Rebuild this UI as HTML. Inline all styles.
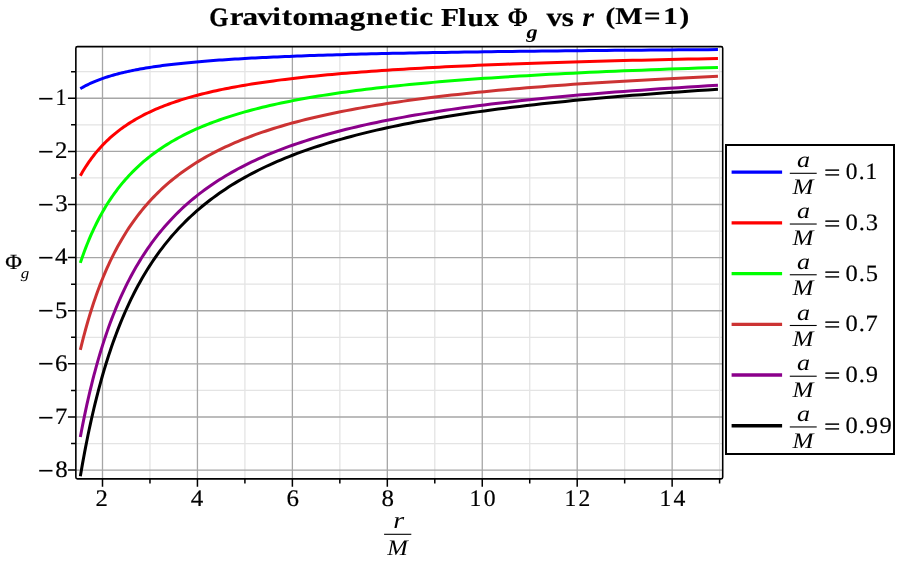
<!DOCTYPE html>
<html lang="en"><head><meta charset="utf-8"><title>Gravitomagnetic Flux</title>
<style>html,body{margin:0;padding:0;background:#fff;}body{width:913px;height:565px;overflow:hidden;font-family:"Liberation Serif",serif;}svg{display:block;will-change:transform;}text{font-family:"Liberation Serif",serif;fill:#000;text-rendering:geometricPrecision;}.b{font-weight:bold;}.i{font-style:italic;}</style></head><body>
<svg width="913" height="565" viewBox="0 0 913 565">
<rect width="913" height="565" fill="#fff"/>
<path d="M149.97 46.6 V478.9 M244.91 46.6 V478.9 M339.85 46.6 V478.9 M434.79 46.6 V478.9 M529.73 46.6 V478.9 M624.67 46.6 V478.9 M719.61 46.6 V478.9 M75.85 71.70 H722.7 M75.85 124.82 H722.7 M75.85 177.94 H722.7 M75.85 231.06 H722.7 M75.85 284.18 H722.7 M75.85 337.30 H722.7 M75.85 390.42 H722.7 M75.85 443.54 H722.7" stroke="#e4e4e4" stroke-width="1.3" fill="none"/>
<path d="M102.50 46.6 V478.9 M197.44 46.6 V478.9 M292.38 46.6 V478.9 M387.32 46.6 V478.9 M482.26 46.6 V478.9 M577.20 46.6 V478.9 M672.14 46.6 V478.9 M75.85 98.26 H722.7 M75.85 151.38 H722.7 M75.85 204.50 H722.7 M75.85 257.62 H722.7 M75.85 310.74 H722.7 M75.85 363.86 H722.7 M75.85 416.98 H722.7 M75.85 470.10 H722.7" stroke="#a6a6a6" stroke-width="1.3" fill="none"/>
<polyline points="80.33,88.68 81.38,88.07 82.43,87.46 83.51,86.86 84.60,86.27 85.70,85.69 86.82,85.12 87.96,84.55 89.11,84.00 90.28,83.45 91.47,82.90 92.67,82.37 93.89,81.84 95.13,81.32 96.39,80.81 97.66,80.31 98.95,79.81 100.26,79.32 101.59,78.84 102.94,78.36 104.31,77.89 105.70,77.43 107.11,76.97 108.53,76.52 109.98,76.08 111.45,75.64 112.94,75.21 114.45,74.78 115.99,74.37 117.54,73.95 119.12,73.54 120.72,73.14 122.34,72.75 123.99,72.36 125.66,71.97 127.35,71.59 129.07,71.22 130.81,70.85 132.58,70.49 134.37,70.13 136.19,69.77 138.04,69.43 139.91,69.08 141.81,68.74 143.73,68.41 145.68,68.08 147.66,67.76 149.67,67.44 151.71,67.12 153.78,66.81 155.88,66.50 158.00,66.20 160.16,65.90 162.35,65.61 164.57,65.32 166.82,65.04 169.11,64.76 171.42,64.48 173.77,64.20 176.16,63.93 178.58,63.67 181.03,63.41 183.52,63.15 186.04,62.89 188.60,62.64 191.20,62.40 193.83,62.15 196.50,61.91 199.21,61.67 201.96,61.44 204.75,61.21 207.58,60.98 210.45,60.76 213.36,60.54 216.31,60.32 219.30,60.11 222.34,59.89 225.42,59.68 228.54,59.48 231.71,59.28 234.93,59.08 238.19,58.88 241.50,58.69 244.85,58.49 248.25,58.30 251.71,58.12 255.21,57.94 258.76,57.75 262.36,57.58 266.02,57.40 269.72,57.23 273.49,57.06 277.30,56.89 281.17,56.72 285.09,56.56 289.07,56.40 293.11,56.24 297.21,56.08 301.36,55.93 305.57,55.77 309.85,55.62 314.18,55.47 318.58,55.33 323.04,55.18 327.57,55.04 332.16,54.90 336.81,54.76 341.53,54.63 346.32,54.49 351.18,54.36 356.11,54.23 361.11,54.10 366.18,53.98 371.32,53.85 376.54,53.73 381.83,53.61 387.20,53.49 392.65,53.37 398.17,53.25 403.77,53.14 409.45,53.02 415.22,52.91 421.07,52.80 427.00,52.69 433.01,52.59 439.11,52.48 445.30,52.38 451.58,52.28 457.95,52.18 464.41,52.08 470.96,51.98 477.61,51.88 484.35,51.79 491.19,51.69 498.13,51.60 505.16,51.51 512.30,51.42 519.54,51.33 526.88,51.24 534.33,51.16 541.88,51.07 549.55,50.99 557.32,50.90 565.21,50.82 573.20,50.74 581.32,50.66 589.54,50.58 597.89,50.51 606.36,50.43 614.95,50.36 623.66,50.28 632.49,50.21 641.46,50.14 650.55,50.07 659.77,50.00 669.13,49.93 678.61,49.86 688.24,49.80 698.00,49.73 707.90,49.66 717.95,49.60" fill="none" stroke="#0000ff" stroke-width="3" stroke-linejoin="round"/>
<polyline points="80.33,175.77 81.38,173.92 82.43,172.10 83.51,170.31 84.60,168.54 85.70,166.79 86.82,165.07 87.96,163.38 89.11,161.71 90.28,160.06 91.47,158.43 92.67,156.83 93.89,155.25 95.13,153.69 96.39,152.16 97.66,150.65 98.95,149.15 100.26,147.68 101.59,146.23 102.94,144.80 104.31,143.40 105.70,142.01 107.11,140.64 108.53,139.29 109.98,137.95 111.45,136.64 112.94,135.35 114.45,134.07 115.99,132.82 117.54,131.58 119.12,130.35 120.72,129.15 122.34,127.96 123.99,126.79 125.66,125.64 127.35,124.50 129.07,123.38 130.81,122.27 132.58,121.18 134.37,120.10 136.19,119.04 138.04,118.00 139.91,116.97 141.81,115.95 143.73,114.95 145.68,113.96 147.66,112.99 149.67,112.03 151.71,111.09 153.78,110.15 155.88,109.23 158.00,108.33 160.16,107.43 162.35,106.55 164.57,105.69 166.82,104.83 169.11,103.99 171.42,103.15 173.77,102.33 176.16,101.52 178.58,100.73 181.03,99.94 183.52,99.17 186.04,98.40 188.60,97.65 191.20,96.91 193.83,96.17 196.50,95.45 199.21,94.74 201.96,94.04 204.75,93.35 207.58,92.67 210.45,92.00 213.36,91.33 216.31,90.68 219.30,90.04 222.34,89.40 225.42,88.77 228.54,88.16 231.71,87.55 234.93,86.95 238.19,86.36 241.50,85.78 244.85,85.20 248.25,84.63 251.71,84.08 255.21,83.53 258.76,82.98 262.36,82.45 266.02,81.92 269.72,81.40 273.49,80.89 277.30,80.38 281.17,79.88 285.09,79.39 289.07,78.91 293.11,78.43 297.21,77.96 301.36,77.50 305.57,77.04 309.85,76.59 314.18,76.14 318.58,75.70 323.04,75.27 327.57,74.85 332.16,74.43 336.81,74.01 341.53,73.60 346.32,73.20 351.18,72.80 356.11,72.41 361.11,72.03 366.18,71.65 371.32,71.27 376.54,70.90 381.83,70.54 387.20,70.18 392.65,69.83 398.17,69.48 403.77,69.13 409.45,68.79 415.22,68.46 421.07,68.13 427.00,67.80 433.01,67.48 439.11,67.17 445.30,66.86 451.58,66.55 457.95,66.25 464.41,65.95 470.96,65.65 477.61,65.36 484.35,65.08 491.19,64.80 498.13,64.52 505.16,64.24 512.30,63.97 519.54,63.71 526.88,63.45 534.33,63.19 541.88,62.93 549.55,62.68 557.32,62.43 565.21,62.19 573.20,61.95 581.32,61.71 589.54,61.47 597.89,61.24 606.36,61.02 614.95,60.79 623.66,60.57 632.49,60.35 641.46,60.14 650.55,59.92 659.77,59.72 669.13,59.51 678.61,59.31 688.24,59.11 698.00,58.91 707.90,58.71 717.95,58.52" fill="none" stroke="#ff0000" stroke-width="3" stroke-linejoin="round"/>
<polyline points="80.33,262.86 81.38,259.78 82.43,256.75 83.51,253.75 84.60,250.80 85.70,247.90 86.82,245.03 87.96,242.20 89.11,239.42 90.28,236.67 91.47,233.96 92.67,231.29 93.89,228.66 95.13,226.06 96.39,223.51 97.66,220.98 98.95,218.50 100.26,216.05 101.59,213.63 102.94,211.25 104.31,208.90 105.70,206.58 107.11,204.30 108.53,202.05 109.98,199.83 111.45,197.64 112.94,195.49 114.45,193.36 115.99,191.27 117.54,189.20 119.12,187.16 120.72,185.15 122.34,183.17 123.99,181.22 125.66,179.30 127.35,177.40 129.07,175.53 130.81,173.69 132.58,171.87 134.37,170.08 136.19,168.31 138.04,166.57 139.91,164.85 141.81,163.16 143.73,161.49 145.68,159.85 147.66,158.22 149.67,156.63 151.71,155.05 153.78,153.50 155.88,151.96 158.00,150.45 160.16,148.96 162.35,147.50 164.57,146.05 166.82,144.62 169.11,143.22 171.42,141.83 173.77,140.46 176.16,139.11 178.58,137.78 181.03,136.47 183.52,135.18 186.04,133.91 188.60,132.65 191.20,131.42 193.83,130.20 196.50,128.99 199.21,127.81 201.96,126.64 204.75,125.49 207.58,124.35 210.45,123.23 213.36,122.13 216.31,121.04 219.30,119.97 222.34,118.91 225.42,117.86 228.54,116.84 231.71,115.82 234.93,114.82 238.19,113.84 241.50,112.87 244.85,111.91 248.25,110.96 251.71,110.03 255.21,109.12 258.76,108.21 262.36,107.32 266.02,106.44 269.72,105.57 273.49,104.72 277.30,103.88 281.17,103.05 285.09,102.23 289.07,101.42 293.11,100.62 297.21,99.84 301.36,99.07 305.57,98.30 309.85,97.55 314.18,96.81 318.58,96.08 323.04,95.36 327.57,94.65 332.16,93.95 336.81,93.26 341.53,92.58 346.32,91.91 351.18,91.25 356.11,90.60 361.11,89.95 366.18,89.32 371.32,88.69 376.54,88.08 381.83,87.47 387.20,86.87 392.65,86.28 398.17,85.70 403.77,85.13 409.45,84.56 415.22,84.01 421.07,83.46 427.00,82.91 433.01,82.38 439.11,81.85 445.30,81.33 451.58,80.82 457.95,80.32 464.41,79.82 470.96,79.33 477.61,78.85 484.35,78.37 491.19,77.90 498.13,77.44 505.16,76.98 512.30,76.53 519.54,76.09 526.88,75.65 534.33,75.22 541.88,74.79 549.55,74.37 557.32,73.96 565.21,73.55 573.20,73.15 581.32,72.75 589.54,72.36 597.89,71.98 606.36,71.60 614.95,71.23 623.66,70.86 632.49,70.49 641.46,70.13 650.55,69.78 659.77,69.43 669.13,69.09 678.61,68.75 688.24,68.42 698.00,68.09 707.90,67.76 717.95,67.44" fill="none" stroke="#00ff00" stroke-width="3" stroke-linejoin="round"/>
<polyline points="80.33,349.95 81.38,345.64 82.43,341.39 83.51,337.20 84.60,333.07 85.70,329.00 86.82,324.98 87.96,321.03 89.11,317.13 90.28,313.28 91.47,309.49 92.67,305.75 93.89,302.07 95.13,298.43 96.39,294.85 97.66,291.32 98.95,287.84 100.26,284.41 101.59,281.03 102.94,277.69 104.31,274.40 105.70,271.16 107.11,267.96 108.53,264.81 109.98,261.71 111.45,258.65 112.94,255.63 114.45,252.65 115.99,249.72 117.54,246.82 119.12,243.97 120.72,241.16 122.34,238.39 123.99,235.66 125.66,232.96 127.35,230.31 129.07,227.69 130.81,225.11 132.58,222.56 134.37,220.05 136.19,217.58 138.04,215.14 139.91,212.74 141.81,210.37 143.73,208.03 145.68,205.73 147.66,203.46 149.67,201.22 151.71,199.01 153.78,196.84 155.88,194.69 158.00,192.58 160.16,190.49 162.35,188.44 164.57,186.41 166.82,184.41 169.11,182.45 171.42,180.50 173.77,178.59 176.16,176.70 178.58,174.84 181.03,173.01 183.52,171.20 186.04,169.42 188.60,167.66 191.20,165.93 193.83,164.22 196.50,162.54 199.21,160.88 201.96,159.24 204.75,157.63 207.58,156.04 210.45,154.47 213.36,152.92 216.31,151.40 219.30,149.90 222.34,148.41 225.42,146.95 228.54,145.52 231.71,144.10 234.93,142.70 238.19,141.32 241.50,139.96 244.85,138.62 248.25,137.29 251.71,135.99 255.21,134.71 258.76,133.44 262.36,132.19 266.02,130.96 269.72,129.75 273.49,128.55 277.30,127.37 281.17,126.21 285.09,125.06 289.07,123.93 293.11,122.82 297.21,121.72 301.36,120.64 305.57,119.57 309.85,118.52 314.18,117.48 318.58,116.46 323.04,115.45 327.57,114.45 332.16,113.47 336.81,112.51 341.53,111.56 346.32,110.62 351.18,109.69 356.11,108.78 361.11,107.88 366.18,106.99 371.32,106.12 376.54,105.25 381.83,104.40 387.20,103.57 392.65,102.74 398.17,101.93 403.77,101.12 409.45,100.33 415.22,99.55 421.07,98.78 427.00,98.02 433.01,97.28 439.11,96.54 445.30,95.81 451.58,95.10 457.95,94.39 464.41,93.69 470.96,93.01 477.61,92.33 484.35,91.66 491.19,91.00 498.13,90.36 505.16,89.72 512.30,89.09 519.54,88.46 526.88,87.85 534.33,87.25 541.88,86.65 549.55,86.07 557.32,85.49 565.21,84.92 573.20,84.35 581.32,83.80 589.54,83.25 597.89,82.71 606.36,82.18 614.95,81.66 623.66,81.14 632.49,80.63 641.46,80.13 650.55,79.64 659.77,79.15 669.13,78.67 678.61,78.19 688.24,77.73 698.00,77.27 707.90,76.81 717.95,76.36" fill="none" stroke="#cc3333" stroke-width="3" stroke-linejoin="round"/>
<polyline points="80.33,437.03 81.38,431.49 82.43,426.03 83.51,420.64 84.60,415.33 85.70,410.10 86.82,404.94 87.96,399.85 89.11,394.84 90.28,389.89 91.47,385.02 92.67,380.21 93.89,375.47 95.13,370.80 96.39,366.20 97.66,361.66 98.95,357.18 100.26,352.77 101.59,348.42 102.94,344.13 104.31,339.91 105.70,335.74 107.11,331.63 108.53,327.58 109.98,323.58 111.45,319.65 112.94,315.77 114.45,311.94 115.99,308.17 117.54,304.45 119.12,300.78 120.72,297.17 122.34,293.60 123.99,290.09 125.66,286.63 127.35,283.21 129.07,279.85 130.81,276.53 132.58,273.25 134.37,270.03 136.19,266.85 138.04,263.71 139.91,260.62 141.81,257.58 143.73,254.57 145.68,251.61 147.66,248.69 149.67,245.81 151.71,242.98 153.78,240.18 155.88,237.42 158.00,234.70 160.16,232.02 162.35,229.38 164.57,226.78 166.82,224.21 169.11,221.68 171.42,219.18 173.77,216.72 176.16,214.29 178.58,211.90 181.03,209.54 183.52,207.22 186.04,204.93 188.60,202.67 191.20,200.44 193.83,198.24 196.50,196.08 199.21,193.94 201.96,191.84 204.75,189.77 207.58,187.72 210.45,185.71 213.36,183.72 216.31,181.76 219.30,179.83 222.34,177.92 225.42,176.04 228.54,174.19 231.71,172.37 234.93,170.57 238.19,168.80 241.50,167.05 244.85,165.32 248.25,163.62 251.71,161.95 255.21,160.30 258.76,158.67 262.36,157.06 266.02,155.48 269.72,153.92 273.49,152.38 277.30,150.87 281.17,149.37 285.09,147.90 289.07,146.45 293.11,145.01 297.21,143.60 301.36,142.21 305.57,140.84 309.85,139.48 314.18,138.15 318.58,136.83 323.04,135.54 327.57,134.26 332.16,133.00 336.81,131.76 341.53,130.53 346.32,129.32 351.18,128.13 356.11,126.96 361.11,125.80 366.18,124.66 371.32,123.54 376.54,122.43 381.83,121.34 387.20,120.26 392.65,119.20 398.17,118.15 403.77,117.12 409.45,116.10 415.22,115.10 421.07,114.11 427.00,113.13 433.01,112.17 439.11,111.22 445.30,110.29 451.58,109.37 457.95,108.46 464.41,107.56 470.96,106.68 477.61,105.81 484.35,104.95 491.19,104.11 498.13,103.27 505.16,102.45 512.30,101.64 519.54,100.84 526.88,100.06 534.33,99.28 541.88,98.51 549.55,97.76 557.32,97.01 565.21,96.28 573.20,95.56 581.32,94.85 589.54,94.14 597.89,93.45 606.36,92.77 614.95,92.09 623.66,91.43 632.49,90.77 641.46,90.13 650.55,89.49 659.77,88.87 669.13,88.25 678.61,87.64 688.24,87.04 698.00,86.45 707.90,85.86 717.95,85.29" fill="none" stroke="#8b008b" stroke-width="3" stroke-linejoin="round"/>
<polyline points="80.33,476.22 81.38,470.13 82.43,464.12 83.51,458.19 84.60,452.35 85.70,446.60 86.82,440.92 87.96,435.32 89.11,429.81 90.28,424.37 91.47,419.01 92.67,413.72 93.89,408.51 95.13,403.37 96.39,398.30 97.66,393.31 98.95,388.39 100.26,383.53 101.59,378.75 102.94,374.03 104.31,369.38 105.70,364.80 107.11,360.28 108.53,355.82 109.98,351.43 111.45,347.10 112.94,342.83 114.45,338.62 115.99,334.47 117.54,330.38 119.12,326.35 120.72,322.37 122.34,318.45 123.99,314.58 125.66,310.77 127.35,307.02 129.07,303.32 130.81,299.67 132.58,296.07 134.37,292.52 136.19,289.02 138.04,285.57 139.91,282.17 141.81,278.82 143.73,275.52 145.68,272.26 147.66,269.05 149.67,265.88 151.71,262.76 153.78,259.68 155.88,256.65 158.00,253.66 160.16,250.71 162.35,247.80 164.57,244.94 166.82,242.11 169.11,239.33 171.42,236.58 173.77,233.88 176.16,231.21 178.58,228.58 181.03,225.98 183.52,223.43 186.04,220.90 188.60,218.42 191.20,215.97 193.83,213.55 196.50,211.17 199.21,208.82 201.96,206.51 204.75,204.23 207.58,201.98 210.45,199.76 213.36,197.58 216.31,195.42 219.30,193.30 222.34,191.20 225.42,189.14 228.54,187.10 231.71,185.09 234.93,183.11 238.19,181.16 241.50,179.24 244.85,177.34 248.25,175.47 251.71,173.63 255.21,171.81 258.76,170.02 262.36,168.26 266.02,166.52 269.72,164.80 273.49,163.11 277.30,161.44 281.17,159.80 285.09,158.17 289.07,156.58 293.11,155.00 297.21,153.45 301.36,151.92 305.57,150.41 309.85,148.92 314.18,147.45 318.58,146.00 323.04,144.58 327.57,143.17 332.16,141.78 336.81,140.42 341.53,139.07 346.32,137.74 351.18,136.43 356.11,135.14 361.11,133.87 366.18,132.62 371.32,131.38 376.54,130.16 381.83,128.96 387.20,127.77 392.65,126.60 398.17,125.45 403.77,124.32 409.45,123.20 415.22,122.09 421.07,121.00 427.00,119.93 433.01,118.87 439.11,117.83 445.30,116.80 451.58,115.79 457.95,114.79 464.41,113.81 470.96,112.84 477.61,111.88 484.35,110.94 491.19,110.00 498.13,109.09 505.16,108.18 512.30,107.29 519.54,106.41 526.88,105.55 534.33,104.69 541.88,103.85 549.55,103.02 557.32,102.20 565.21,101.40 573.20,100.60 581.32,99.82 589.54,99.04 597.89,98.28 606.36,97.53 614.95,96.79 623.66,96.06 632.49,95.34 641.46,94.63 650.55,93.93 659.77,93.24 669.13,92.56 678.61,91.89 688.24,91.23 698.00,90.58 707.90,89.93 717.95,89.30" fill="none" stroke="#000000" stroke-width="3" stroke-linejoin="round"/>
<rect x="75.85" y="46.6" width="646.85" height="432.30" rx="1.6" fill="none" stroke="#000" stroke-width="1.6"/>
<path d="M102.50 478.9 v7.8 M197.44 478.9 v7.8 M292.38 478.9 v7.8 M387.32 478.9 v7.8 M482.26 478.9 v7.8 M577.20 478.9 v7.8 M672.14 478.9 v7.8 M149.97 478.9 v4.7 M244.91 478.9 v4.7 M339.85 478.9 v4.7 M434.79 478.9 v4.7 M529.73 478.9 v4.7 M624.67 478.9 v4.7 M719.61 478.9 v4.7 M75.85 98.26 h-7.9 M75.85 151.38 h-7.9 M75.85 204.50 h-7.9 M75.85 257.62 h-7.9 M75.85 310.74 h-7.9 M75.85 363.86 h-7.9 M75.85 416.98 h-7.9 M75.85 470.10 h-7.9 M75.85 71.70 h-4.8 M75.85 124.82 h-4.8 M75.85 177.94 h-4.8 M75.85 231.06 h-4.8 M75.85 284.18 h-4.8 M75.85 337.30 h-4.8 M75.85 390.42 h-4.8 M75.85 443.54 h-4.8" stroke="#000" stroke-width="1.5" fill="none"/>
<text font-size="100" transform="matrix(0.28602 0 0 0.34000 37.72 109.78)">−</text>
<text font-size="100" stroke="#000" stroke-width="0.79" x="251.2" y="0" transform="matrix(0.22057 0 0 0.23667 0 105.12)">1</text>
<text font-size="100" transform="matrix(0.28602 0 0 0.34000 37.72 162.90)">−</text>
<text font-size="100" stroke="#000" stroke-width="0.74" x="222.1" y="0" transform="matrix(0.24800 0 0 0.23667 0 158.24)">2</text>
<text font-size="100" transform="matrix(0.28602 0 0 0.34000 37.72 216.02)">−</text>
<text font-size="100" stroke="#000" stroke-width="0.74" x="221.2" y="0" transform="matrix(0.24927 0 0 0.23761 0 211.42)">3</text>
<text font-size="100" transform="matrix(0.28602 0 0 0.34000 37.72 269.14)">−</text>
<text font-size="100" stroke="#000" stroke-width="0.74" x="220.1" y="0" transform="matrix(0.24989 0 0 0.23667 0 264.48)">4</text>
<text font-size="100" transform="matrix(0.28602 0 0 0.34000 37.72 322.26)">−</text>
<text font-size="100" stroke="#000" stroke-width="0.75" x="222.2" y="0" transform="matrix(0.24800 0 0 0.23489 0 317.67)">5</text>
<text font-size="100" transform="matrix(0.28602 0 0 0.34000 37.72 375.38)">−</text>
<text font-size="100" stroke="#000" stroke-width="0.74" x="220.4" y="0" transform="matrix(0.24988 0 0 0.23761 0 370.78)">6</text>
<text font-size="100" transform="matrix(0.28602 0 0 0.34000 37.72 428.50)">−</text>
<text font-size="100" stroke="#000" stroke-width="0.75" x="222.2" y="0" transform="matrix(0.24741 0 0 0.23389 0 423.84)">7</text>
<text font-size="100" transform="matrix(0.28602 0 0 0.34000 37.72 481.62)">−</text>
<text font-size="100" stroke="#000" stroke-width="0.74" x="220.3" y="0" transform="matrix(0.25048 0 0 0.23585 0 477.02)">8</text>
<text font-size="100" stroke="#000" stroke-width="0.74" x="384.7" y="0" transform="matrix(0.24800 0 0 0.23667 0 505.81)">2</text>
<text font-size="100" stroke="#000" stroke-width="0.74" x="763.7" y="0" transform="matrix(0.24989 0 0 0.23667 0 505.81)">4</text>
<text font-size="100" stroke="#000" stroke-width="0.74" x="1146.4" y="0" transform="matrix(0.24988 0 0 0.23761 0 505.87)">6</text>
<text font-size="100" stroke="#000" stroke-width="0.74" x="1523.2" y="0" transform="matrix(0.25048 0 0 0.23585 0 505.87)">8</text>
<text font-size="100" stroke="#000" stroke-width="0.76" x="1982.3 2042.0" y="0" transform="matrix(0.23688 0 0 0.23585 0 505.87)">10</text>
<text font-size="100" stroke="#000" stroke-width="0.76" x="2400.4 2459.6" y="0" transform="matrix(0.23520 0 0 0.23667 0 505.81)">12</text>
<text font-size="100" stroke="#000" stroke-width="0.76" x="2779.4 2838.0" y="0" transform="matrix(0.23730 0 0 0.23667 0 505.81)">14</text>
<text font-size="100" stroke="#000" stroke-width="1.12" transform="matrix(0.22761 0 0 0.21756 5.24 268.98)">Φ</text>
<text class="i" font-size="100" transform="matrix(0.17021 0 0 0.14745 20.70 277.63)">g</text>
<text class="i" font-size="100" transform="matrix(0.28000 0 0 0.23404 393.28 527.90)">r</text>
<text class="i" font-size="100" transform="matrix(0.24719 0 0 0.22290 387.15 555.20)">M</text>
<path d="M384.1 534.3 H411.3" stroke="#000" stroke-width="1.1" fill="none"/>
<text class="b" font-size="100" stroke="#000" stroke-width="0.85" transform="matrix(0.24829 0 0 0.26687 209.37 25.52)">G</text>
<text class="b" font-size="100" stroke="#000" stroke-width="0.78" x="738.3 779.3 827.0 874.8 904.8 939.7 989.5 1071.9 1123.8 1176.0 1233.5 1282.3 1317.2 1346.4" y="0" transform="matrix(0.31133 0 0 0.25552 0 25.17)">ravitomagnetic</text>
<text class="b" font-size="100" stroke="#000" stroke-width="0.80" x="1496.0 1554.4 1585.5 1642.3" y="0" transform="matrix(0.29482 0 0 0.25929 0 25.53)">Flux</text>
<text class="b" font-size="100" transform="matrix(0.24800 0 0 0.26565 507.41 25.60)">Φ</text>
<text class="b i" font-size="100" transform="matrix(0.22222 0 0 0.18540 526.54 38.31)">g</text>
<text class="b" font-size="100" stroke="#000" stroke-width="0.76" x="1757.7 1806.9" y="0" transform="matrix(0.31090 0 0 0.26833 0 25.52)">vs</text>
<text class="b i" font-size="100" transform="matrix(0.30133 0 0 0.27021 582.30 25.60)">r</text>
<text class="b" font-size="100" stroke="#000" stroke-width="0.83" x="2079.9 2113.7 2212.4 2278.2 2334.2" y="0" transform="matrix(0.29111 0 0 0.23934 0 24.14)">(M=1)</text>
<rect x="726" y="145" width="168" height="309" fill="#fff" stroke="#000" stroke-width="2"/>
<path d="M731.6 172.10 H782.1" stroke="#0000ff" stroke-width="3.3" fill="none"/>
<path d="M789.8 173.30 H816.7" stroke="#000" stroke-width="1.1" fill="none"/>
<text class="i" font-size="100" transform="matrix(0.26047 0 0 0.22292 797.02 167.48)">a</text>
<text class="i" font-size="100" transform="matrix(0.25169 0 0 0.22290 792.45 194.00)">M</text>
<text font-size="100" stroke="#000" stroke-width="1.57" transform="matrix(0.28387 0 0 0.22800 824.28 180.17)">=</text>
<text font-size="100" stroke="#000" stroke-width="0.77" x="3608.2 3664.3 3692.7" y="0" transform="matrix(0.23438 0 0 0.23412 0 179.21)">0.1</text>
<path d="M731.6 222.83 H782.1" stroke="#ff0000" stroke-width="3.3" fill="none"/>
<path d="M789.8 224.03 H816.7" stroke="#000" stroke-width="1.1" fill="none"/>
<text class="i" font-size="100" transform="matrix(0.26047 0 0 0.22292 797.02 218.21)">a</text>
<text class="i" font-size="100" transform="matrix(0.25169 0 0 0.22290 792.45 244.73)">M</text>
<text font-size="100" stroke="#000" stroke-width="1.57" transform="matrix(0.28387 0 0 0.22800 824.28 230.90)">=</text>
<text font-size="100" stroke="#000" stroke-width="0.75" x="3438.1 3492.1 3520.5" y="0" transform="matrix(0.24589 0 0 0.23412 0 229.94)">0.3</text>
<path d="M731.6 273.56 H782.1" stroke="#00ff00" stroke-width="3.3" fill="none"/>
<path d="M789.8 274.76 H816.7" stroke="#000" stroke-width="1.1" fill="none"/>
<text class="i" font-size="100" transform="matrix(0.26047 0 0 0.22292 797.02 268.94)">a</text>
<text class="i" font-size="100" transform="matrix(0.25169 0 0 0.22290 792.45 295.46)">M</text>
<text font-size="100" stroke="#000" stroke-width="1.57" transform="matrix(0.28387 0 0 0.22800 824.28 281.63)">=</text>
<text font-size="100" stroke="#000" stroke-width="0.75" x="3446.2 3500.4 3528.6" y="0" transform="matrix(0.24532 0 0 0.23412 0 280.67)">0.5</text>
<path d="M731.6 324.29 H782.1" stroke="#cc3333" stroke-width="3.3" fill="none"/>
<path d="M789.8 325.49 H816.7" stroke="#000" stroke-width="1.1" fill="none"/>
<text class="i" font-size="100" transform="matrix(0.26047 0 0 0.22292 797.02 319.67)">a</text>
<text class="i" font-size="100" transform="matrix(0.25169 0 0 0.22290 792.45 346.19)">M</text>
<text font-size="100" stroke="#000" stroke-width="1.57" transform="matrix(0.28387 0 0 0.22800 824.28 332.36)">=</text>
<text font-size="100" stroke="#000" stroke-width="0.75" x="3449.6 3503.8 3531.5" y="0" transform="matrix(0.24508 0 0 0.23412 0 331.40)">0.7</text>
<path d="M731.6 375.02 H782.1" stroke="#8b008b" stroke-width="3.3" fill="none"/>
<path d="M789.8 376.22 H816.7" stroke="#000" stroke-width="1.1" fill="none"/>
<text class="i" font-size="100" transform="matrix(0.26047 0 0 0.22292 797.02 370.40)">a</text>
<text class="i" font-size="100" transform="matrix(0.25169 0 0 0.22290 792.45 396.92)">M</text>
<text font-size="100" stroke="#000" stroke-width="1.57" transform="matrix(0.28387 0 0 0.22800 824.28 383.09)">=</text>
<text font-size="100" stroke="#000" stroke-width="0.75" x="3451.4 3505.7 3534.8" y="0" transform="matrix(0.24495 0 0 0.23412 0 382.13)">0.9</text>
<path d="M731.6 425.75 H782.1" stroke="#000000" stroke-width="3.3" fill="none"/>
<path d="M789.8 426.95 H816.7" stroke="#000" stroke-width="1.1" fill="none"/>
<text class="i" font-size="100" transform="matrix(0.26047 0 0 0.22292 797.02 421.13)">a</text>
<text class="i" font-size="100" transform="matrix(0.25169 0 0 0.22290 792.45 447.65)">M</text>
<text font-size="100" stroke="#000" stroke-width="1.57" transform="matrix(0.28387 0 0 0.22800 824.28 433.82)">=</text>
<text font-size="100" stroke="#000" stroke-width="0.75" x="3442.6 3496.8 3525.8 3581.1" y="0" transform="matrix(0.24557 0 0 0.23412 0 432.86)">0.99</text>
</svg></body></html>
